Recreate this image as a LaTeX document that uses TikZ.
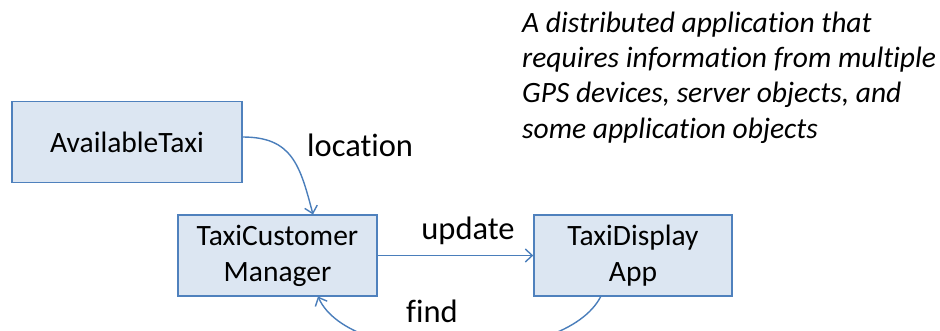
\documentclass[tikz,border=0pt]{standalone}
\usepackage{fontspec}
\setmainfont{Carlito}[Ligatures=NoCommon]
\usetikzlibrary{arrows.meta}
\definecolor{boxline}{HTML}{4F81BD}
\definecolor{boxfill}{HTML}{DCE6F2}
\definecolor{flow}{HTML}{4A7EBB}
\tikzset{
  classbox/.style={draw=boxline, line width=1.4pt, fill=boxfill, inner sep=0pt,
    align=center, font=\fontsize{29.5}{36}\selectfont},
  flowline/.style={draw=flow, line width=1.4pt, -{Straight Barb[length=7pt,width=13pt,line width=1.4pt]}},
  flowlabel/.style={inner sep=0pt, font=\fontsize{32.5}{38}\selectfont},
  note/.style={inner sep=0pt, align=left, font=\fontsize{29.5}{35.3}\selectfont\itshape}
}
\begin{document}
\begin{tikzpicture}[x=1pt,y=-1pt]
  \useasboundingbox (0,0) rectangle (940,330);
  \clip (0,0) rectangle (940,330);
  % class boxes
  \node[classbox, minimum width=230pt, minimum height=81pt] (avail) at (127,142) {AvailableTaxi};
  \node[classbox, minimum width=199pt, minimum height=81pt] (mgr) at (277.5,255.5) {TaxiCustomer\\Manager};
  \node[classbox, minimum width=198pt, minimum height=81pt] (disp) at (633,255.5) {TaxiDisplay\\App};
  % connectors
  \coordinate (availout) at (avail.east |- 0,137);
  \coordinate (mgrtop) at (313,214.5);
  \draw[flowline] (availout) .. controls (292,137) and (300,165) .. (mgrtop);
  \draw[flowline] (mgr.east) -- (disp.west);
  \coordinate (dispbot) at (601,296);
  \coordinate (mgrbot) at (318,296.5);
  \draw[flowline] (dispbot) .. controls (565,368) and (350,368) .. (mgrbot);
  % labels
  \node[flowlabel, anchor=base west] (loc) at (307,156) {location};
  \node[flowlabel, anchor=base] (upd) at (468,239) {update};
  \node[flowlabel, anchor=base] (fnd) at (432,322) {find};
  \node[note, anchor=base west] (desc) at (522,138) {A distributed application that\\requires information from multiple\\GPS devices, server objects, and\\some application objects};
\end{tikzpicture}
\end{document}
